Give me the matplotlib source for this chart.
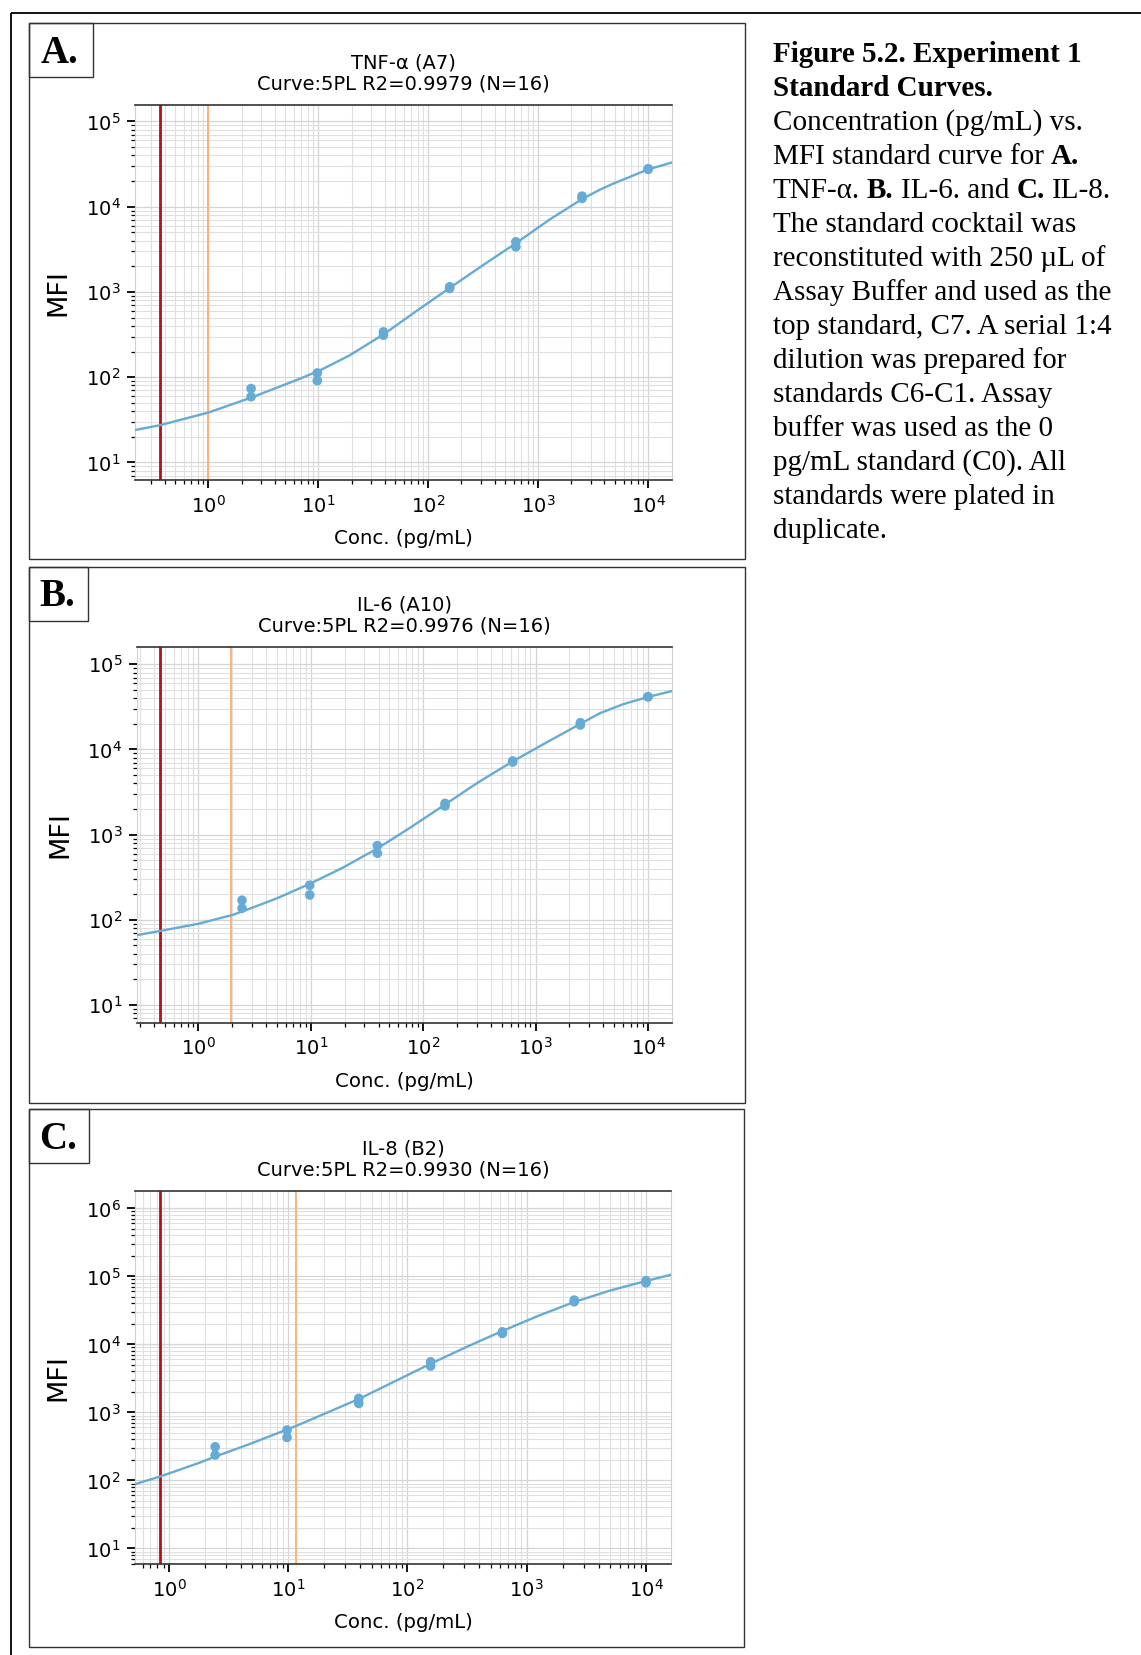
import numpy as np
import matplotlib
matplotlib.use("Agg")
from matplotlib import pyplot as plt
from matplotlib.patches import Rectangle

# standards (pg/mL), two replicates each; C0 = 0 pg/mL is not shown on a log axis
std_conc = [2.44, 9.77, 39.06, 156.25, 625, 2500, 10000]

tnf_rep1 = [73.6, 112, 340, 1148, 3870, 13300, 27900]
tnf_rep2 = [59, 91, 311, 1099, 3385, 12500, 27400]
il6_rep1 = [170, 255, 743, 2330, 7330, 20650, 41700]
il6_rep2 = [137, 196, 606, 2170, 7130, 19400, 41400]
il8_rep1 = [312, 550, 1607, 5550, 15300, 44800, 86100]
il8_rep2 = [236, 429, 1355, 4800, 14500, 42300, 80500]

# fitted 5PL curves
tnf_curve_x = [0.215, 0.365, 1.0, 2.44, 6.74, 10.3, 19.2, 40, 77.8, 159, 315, 634, 1275, 2510, 3640, 4700, 10000, 16600]
tnf_curve_y = [24, 27.4, 38.5, 57.5, 95.5, 120, 180, 324, 596, 1130, 2065, 3770, 7100, 12300, 15850, 18400, 27400, 33100]
il6_curve_x = [0.282, 0.455, 1.0, 2.0, 2.44, 5.0, 9.6, 18.8, 39.3, 79, 158.7, 309, 634, 1213, 2483, 3740, 6000, 10000, 16480]
il6_curve_y = [66, 74, 90, 114, 125, 179, 262, 403, 692, 1241, 2290, 4120, 7330, 11830, 19900, 26700, 34000, 41400, 48700]
il8_curve_x = [0.52, 0.84, 1.0, 1.82, 2.44, 4.78, 9.83, 11.8, 39.4, 157, 313, 628, 1290, 2535, 4990, 10120, 16300]
il8_curve_y = [88, 114, 126.5, 183, 224, 344, 562, 638, 1585, 5210, 9180, 15800, 26900, 42300, 61800, 86100, 106000]

# red and orange limit lines (pg/mL)
red_line = [0.365, 0.455, 0.84]
orange_line = [1.0, 1.96, 11.6]

titles = ["TNF-\u03b1 (A7)\nCurve:5PL R2=0.9979 (N=16)",
          "IL-6 (A10)\nCurve:5PL R2=0.9976 (N=16)",
          "IL-8 (B2)\nCurve:5PL R2=0.9930 (N=16)"]
panel_labels = ["A.", "B.", "C."]
xlims = [(0.215, 16600), (0.282, 16480), (0.52, 16300)]
ylims = [(6.17, 158000), (6.2, 161000), (5.9, 1.8e6)]

caption = [
    [("Figure 5.2. Experiment 1", True)],
    [("Standard Curves.", True)],
    [("Concentration (pg/mL) vs.", False)],
    [("MFI standard curve for", False), ("A.", True)],
    [("TNF-\u03b1.", False), ("B.", True), ("IL-6. and", False), ("C.", True), ("IL-8.", False)],
    [("The standard cocktail was", False)],
    [("reconstituted with 250 \u00b5L of", False)],
    [("Assay Buffer and used as the", False)],
    [("top standard, C7. A serial 1:4", False)],
    [("dilution was prepared for", False)],
    [("standards C6-C1. Assay", False)],
    [("buffer was used as the 0", False)],
    [("pg/mL standard (C0). All", False)],
    [("standards were plated in", False)],
    [("duplicate.", False)],
]

W, H = 1141, 1655


def px_rect(l, t, r, b):
    return [l / W, 1 - b / H, (r - l) / W, (b - t) / H]


fig = plt.figure(figsize=(W / 100, H / 100), dpi=100)
bg = fig.add_axes([0, 0, 1, 1], zorder=-1)
bg.set_xlim(0, W)
bg.set_ylim(H, 0)
bg.axis("off")

# outer frame (runs off the right and bottom edge)
bg.add_patch(Rectangle((10.5, 12.7), W + 20, H + 20, fill=False, ec="black", lw=1.3))

panel_boxes = [(28.5, 23.2, 745.2, 559.4), (28.5, 566.8, 745.2, 1103), (28.5, 1109.3, 744, 1646.6)]
label_boxes = [(28.5, 23.2, 92.9, 77), (28.5, 566.8, 87.6, 620.6), (28.5, 1109.3, 88.7, 1163)]
axes_boxes = [(135.1, 104.5, 672.4, 480.3), (136.7, 646.7, 672.4, 1022.7), (135.1, 1191, 671.3, 1564)]

series = [
    (tnf_rep1, tnf_rep2, tnf_curve_x, tnf_curve_y),
    (il6_rep1, il6_rep2, il6_curve_x, il6_curve_y),
    (il8_rep1, il8_rep2, il8_curve_x, il8_curve_y),
]

blue = "#66abd5"
for i in range(3):
    l, t, r, b = panel_boxes[i]
    bg.add_patch(Rectangle((l, t), r - l, b - t, fill=False, ec="#333333", lw=1.0))
    l, t, r, b = label_boxes[i]
    bg.add_patch(Rectangle((l, t), r - l, b - t, fill=False, ec="#333333", lw=1.0))
    bg.text((l + r) / 2 - 1, (t + b) / 2 + 3, panel_labels[i], ha="center", va="center",
            fontsize=28, fontweight="bold", family="Liberation Serif")

    rep1, rep2, cx, cy = series[i]
    ax = fig.add_axes(px_rect(*axes_boxes[i]))
    ax.set_xscale("log")
    ax.set_yscale("log")
    ax.plot(cx, cy, color=blue, lw=1.7, zorder=3)
    ax.scatter(std_conc, rep1, s=48, color=blue, zorder=4, edgecolors="none")
    ax.scatter(std_conc, rep2, s=48, color=blue, zorder=4, edgecolors="none")
    ax.axvline(red_line[i], color="#b3101b", lw=2.0, zorder=2)
    ax.axvline(orange_line[i], color="#fdb27a", lw=1.4, zorder=2)
    ax.set_xlim(*xlims[i])
    ax.set_ylim(*ylims[i])
    ax.set_axisbelow(True)
    ax.grid(True, which="major", color="#d4d4d4", lw=0.9)
    ax.grid(True, which="minor", color="#e0e0e0", lw=0.8)
    for s in ["left", "right"]:
        ax.spines[s].set_color("#d0d0d0")
    for s in ["top", "bottom"]:
        ax.spines[s].set_color("#333333")
        ax.spines[s].set_linewidth(1.2)
    ax.tick_params(which="major", length=5.5, width=1.3, labelsize=14, pad=5)
    ax.tick_params(which="minor", length=2.8, width=0.9)
    ax.set_title(titles[i], fontsize=14, pad=11, linespacing=1.14)
    ax.set_ylabel("MFI", fontsize=19.5, labelpad=10)
    ax.set_xlabel("Conc. (pg/mL)", fontsize=14.2, labelpad=9)

# caption on the right, with bold runs
cap_kw = dict(fontsize=21, family="Liberation Serif")
for k, line in enumerate(caption):
    y = 62 + k * 34
    prev = None
    for s, bold in line:
        w = "bold" if bold else "normal"
        if prev is None:
            prev = bg.text(772.6, y, s, va="baseline", ha="left", fontweight=w, **cap_kw)
        else:
            prev = bg.annotate(s, xy=(1, 0), xycoords=prev, xytext=(5.2, 0),
                               textcoords="offset points", va="bottom", ha="left",
                               fontweight=w, **cap_kw)

fig.savefig("out.png", dpi=100)
